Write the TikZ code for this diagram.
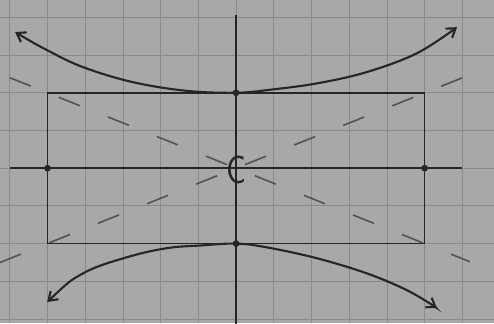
\documentclass[tikz,border=0pt]{standalone}
\usepackage{tikz}
\usetikzlibrary{arrows.meta}
\definecolor{paper}{gray}{0.66}
\definecolor{gridline}{gray}{0.54}
\definecolor{ink}{gray}{0.15}
\begin{document}
\begin{tikzpicture}[
    barb/.tip={Straight Barb[length=2.2mm, width=3mm]},
    axis/.style={draw=ink, line width=1.3pt},
    boxline/.style={draw=ink, line width=1.3pt},
    branch/.style={draw=ink, line width=1.6pt, arrows={barb-barb}},
    asym/.style={draw=ink!80, line width=1.2pt, dash pattern=on 0.6cm off 0.8cm},
    dot/.style={circle, fill=ink, inner sep=0pt, minimum size=1.8mm},
    >=Stealth
  ]

  %% Paper and grid
  \useasboundingbox (-6.26,-4.11) rectangle (6.84,4.46);
  \fill[paper] (-6.26,-4.11) rectangle (6.84,4.46);
  \draw[gridline, line width=0.6pt, step=1] (-6.26,-4.11) grid (6.84,4.46);

  %% Named points
  \coordinate (C) at (0,0);
  \coordinate (V1) at (0,2);
  \coordinate (V2) at (0,-2);
  \coordinate (W1) at (-5,0);
  \coordinate (W2) at (5,0);

  %% Axes
  \draw[axis] (-6,0) -- (6,0);
  \draw[axis] (0,4.06) -- (0,-4.2);

  %% Box
  \draw[boxline] (-5,-2) rectangle (5,2);

  %% Asymptotes
  \draw[asym] (-6.0,2.4) -- (C) -- (6.2,-2.48);
  \draw[asym] (-6.26,-2.5) -- (C) -- (6.66,2.66);

  %% Upper branch
  \draw[branch] plot[smooth, tension=0.6] coordinates {
    (-5.86,3.61) (-5.01,3.13) (-4.06,2.68) (-2.73,2.28) (-1.30,2.05)
    (V1) (0.9,2.08) (2.15,2.25) (3.47,2.55) (4.80,3.05) (5.86,3.74)};

  %% Lower branch
  \draw[branch] plot[smooth, tension=0.6] coordinates {
    (-5.01,-3.55) (-4.06,-2.79) (-2.89,-2.36) (-1.83,-2.12) (-0.95,-2.05)
    (V2) (0.82,-2.1) (2.15,-2.39) (3.47,-2.79) (4.54,-3.24) (5.33,-3.71)};

  %% Dots
  \node[dot] at (V1) {};
  \node[dot] at (V2) {};
  \node[dot] at (W1) {};
  \node[dot] at (W2) {};

  %% Centre
  \node[text=ink, font=\sffamily\Huge, inner sep=0pt, yscale=1.2] (label) at (0,-0.05) {C};

\end{tikzpicture}
\end{document}
